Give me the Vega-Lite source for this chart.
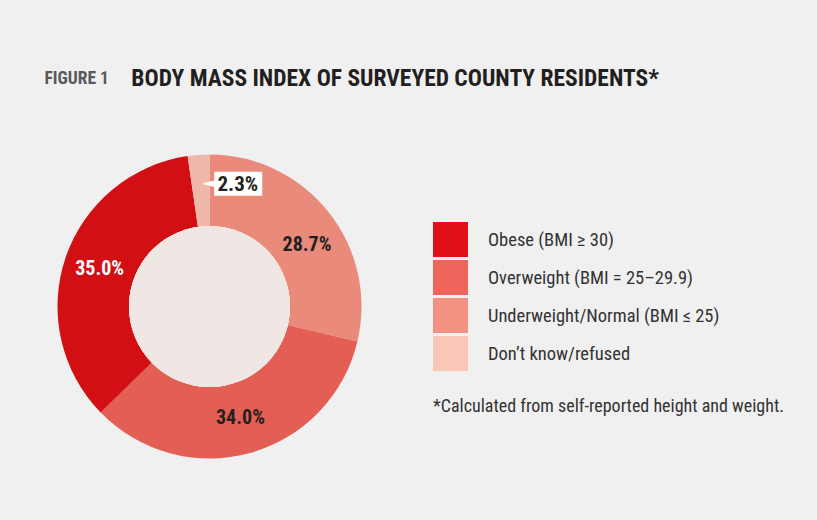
{
  "$schema": "https://vega.github.io/schema/vega-lite/v6.json",
  "width": 310,
  "height": 310,
  "autosize": {"type": "none"},
  "padding": {"left": 54.5, "top": 151.5, "right": 452.5, "bottom": 58.5},
  "background": "#f0f0f0",
  "config": {
    "view": {"stroke": null},
    "font": "Liberation Sans Narrow, Arial Narrow, Roboto Condensed, DejaVu Sans Condensed, sans-serif"
  },
  "title": {
    "text": "FIGURE 1",
    "subtitle": "\u200b\u2003\u2003\u2003\u2003\u2009BODY MASS INDEX OF SURVEYED COUNTY RESIDENTS*",
    "anchor": "start",
    "frame": "group",
    "dx": -10,
    "offset": 58,
    "fontSize": 17.5,
    "fontWeight": "bold",
    "color": "#58595b",
    "subtitleFontSize": 23.5,
    "subtitleFontWeight": "bold",
    "subtitleColor": "#231f20",
    "subtitlePadding": -21
  },
  "data": {
    "values": [
      {"category": "Underweight/Normal (BMI ≤ 25)", "share": 0.287, "pos": 1},
      {"category": "Overweight (BMI = 25–29.9)", "share": 0.340, "pos": 2},
      {"category": "Obese (BMI ≥ 30)", "share": 0.350, "pos": 3},
      {"category": "Don’t know/refused", "share": 0.023, "pos": 4}
    ]
  },
  "layer": [
    {
      "mark": {"type": "arc", "outerRadius": 152, "innerRadius": 80, "stroke": null},
      "encoding": {
        "theta": {"field": "share", "type": "quantitative", "stack": true},
        "order": {"field": "pos", "type": "quantitative"},
        "fill": {
          "field": "category",
          "type": "nominal",
          "legend": null,
          "scale": {
            "domain": ["Underweight/Normal (BMI ≤ 25)", "Overweight (BMI = 25–29.9)", "Obese (BMI ≥ 30)", "Don’t know/refused"],
            "range": ["#e98a7b", "#e35f54", "#d21014", "#f0b8ab"]
          }
        }
      }
    },
    {
      "mark": {"type": "arc", "outerRadius": 80.5, "innerRadius": 0, "fill": "#f0e6e3"},
      "encoding": {}
    },
    {
      "mark": {"type": "square", "opacity": 0},
      "encoding": {
        "color": {
          "field": "category",
          "type": "nominal",
          "scale": {
            "domain": ["Obese (BMI ≥ 30)", "Overweight (BMI = 25–29.9)", "Underweight/Normal (BMI ≤ 25)", "Don’t know/refused"],
            "range": ["#e01116", "#f0655b", "#f39282", "#f9c6b8"]
          },
          "legend": {
            "orient": "none",
            "legendX": 378.5,
            "legendY": 70.5,
            "padding": 0,
            "title": "*Calculated from self-reported height and weight.",
            "titleOrient": "bottom",
            "titleAnchor": "start",
            "titleBaseline": "top",
            "titlePadding": 27,
            "titleFontSize": 18,
            "titleFontWeight": "normal",
            "titleColor": "#333333",
            "titleLimit": 600,
            "symbolType": "square",
            "symbolSize": 1225,
            "symbolStrokeWidth": 0,
            "symbolOpacity": 1,
            "labelFontSize": 18.5,
            "labelColor": "#333333",
            "labelOffset": 20,
            "labelLimit": 400,
            "rowPadding": 3
          }
        }
      }
    },
    {
      "mark": {"type": "text", "radius": 116, "fontSize": 20, "fontWeight": "bold"},
      "encoding": {
        "theta": {"field": "share", "type": "quantitative", "stack": true},
        "order": {"field": "pos", "type": "quantitative"},
        "text": {
          "condition": {"test": "datum.pos == 1 || datum.pos == 4", "value": ""},
          "field": "share", "type": "quantitative", "format": ".1%"
        },
        "color": {
          "condition": {"test": "datum.pos == 3", "value": "#ffffff"},
          "value": "#231f20"
        }
      }
    },
    {
      "mark": {"type": "text", "radius": 116, "dx": 6.5, "dy": 10, "fontSize": 20, "fontWeight": "bold", "color": "#231f20"},
      "encoding": {
        "theta": {"field": "share", "type": "quantitative", "stack": true},
        "order": {"field": "pos", "type": "quantitative"},
        "text": {
          "condition": {"test": "datum.pos != 1", "value": ""},
          "field": "share", "type": "quantitative", "format": ".1%"
        }
      }
    },
    {
      "transform": [{"filter": "datum.pos == 4"}],
      "mark": {
        "type": "point",
        "shape": "M-0.627,-0.407L1,-0.407L1,0.407L-0.627,0.407L-0.627,0.11L-1,0.02L-1,-0.02L-0.627,-0.11Z",
        "size": 3481,
        "filled": true,
        "fill": "#ffffff",
        "opacity": 1,
        "strokeWidth": 0
      },
      "encoding": {
        "x": {"datum": 0.150, "type": "quantitative", "scale": {"domain": [-1, 1]}, "axis": null},
        "y": {"datum": 0.792, "type": "quantitative", "scale": {"domain": [-1, 1]}, "axis": null}
      }
    },
    {
      "transform": [{"filter": "datum.pos == 4"}],
      "mark": {"type": "text", "fontSize": 21, "fontWeight": "bold", "color": "#231f20", "align": "center", "baseline": "middle"},
      "encoding": {
        "x": {"datum": 0.183, "type": "quantitative", "scale": {"domain": [-1, 1]}, "axis": null},
        "y": {"datum": 0.784, "type": "quantitative", "scale": {"domain": [-1, 1]}, "axis": null},
        "text": {"field": "share", "type": "quantitative", "format": ".1%"}
      }
    }
  ]
}
